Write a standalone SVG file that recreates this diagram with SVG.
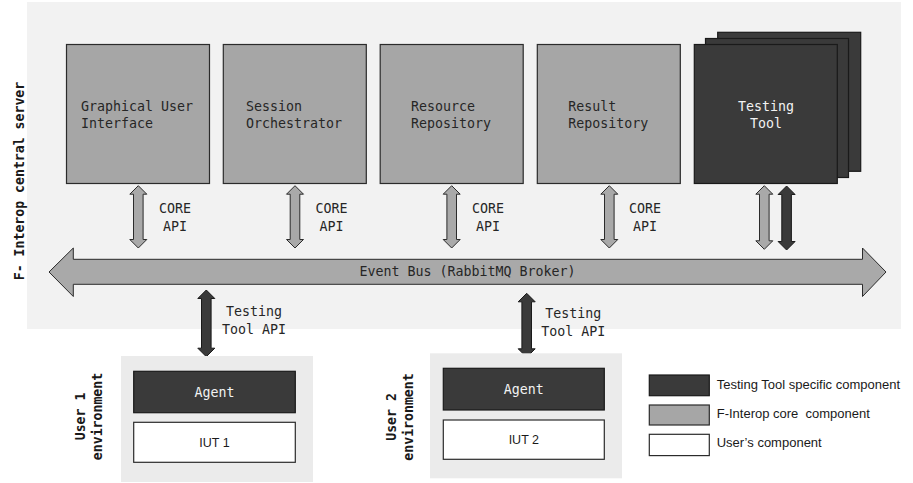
<svg xmlns="http://www.w3.org/2000/svg" width="913" height="483" viewBox="0 0 913 483">
<style>
.bg{fill:#f2f2f2}
.env{fill:#ebebeb}
.core{fill:#a6a6a6;stroke:#2b2b2b;stroke-width:1.2}
.dark{fill:#3a3a3a;stroke:#1a1a1a;stroke-width:1.2}
.user{fill:#ffffff;stroke:#2b2b2b;stroke-width:1.2}
.arL{fill:#a9a9a9;stroke:#2b2b2b;stroke-width:1}
.arD{fill:#3a3a3a;stroke:#1a1a1a;stroke-width:1}
.mono{font-family:"DejaVu Sans Mono","Liberation Mono",monospace;font-size:13.3px;fill:#262626}
.monoW{font-family:"DejaVu Sans Mono","Liberation Mono",monospace;font-size:13.3px;fill:#f2f2f2}
.side{font-family:"DejaVu Sans Mono","Liberation Mono",monospace;font-size:13.2px;font-weight:bold;fill:#1a1a1a}
.sans{font-family:"Liberation Sans",Arial,sans-serif;font-size:12.5px;fill:#1a1a1a}
.leg{font-family:"Liberation Sans",Arial,sans-serif;font-size:13px;fill:#1a1a1a}
</style>
<rect class="bg" x="27" y="2" width="874" height="327"/>
<text class="side" transform="translate(23.5,181) rotate(-90)" text-anchor="middle">F- Interop central server</text>

<g id="gui">
<rect class="core" x="66.5" y="44.5" width="143" height="139"/>
<text class="mono" x="81" y="110.5">Graphical User</text>
<text class="mono" x="81" y="127.5">Interface</text>
</g>
<g id="session">
<rect class="core" x="223.3" y="44.5" width="143" height="139"/>
<text class="mono" x="246" y="110.5">Session</text>
<text class="mono" x="246" y="127.5">Orchestrator</text>
</g>
<g id="resource">
<rect class="core" x="380.2" y="44.5" width="143" height="139"/>
<text class="mono" x="411" y="110.5">Resource</text>
<text class="mono" x="411" y="127.5">Repository</text>
</g>
<g id="result">
<rect class="core" x="537.3" y="44.5" width="143" height="139"/>
<text class="mono" x="568.3" y="110.5">Result</text>
<text class="mono" x="568.3" y="127.5">Repository</text>
</g>
<g id="testing-tool">
<rect class="dark" x="717.7" y="32.3" width="143" height="139"/>
<rect class="dark" x="705.5" y="38.5" width="143" height="139"/>
<rect class="dark" x="694.3" y="44.5" width="143" height="139"/>
<text class="monoW" x="766" y="110.5" text-anchor="middle">Testing</text>
<text class="monoW" x="766" y="127.5" text-anchor="middle">Tool</text>
</g>

<g id="connectors">
<path class="arL" d="M49,272 L73.3,248 L73.3,259.3 L862.5,259.3 L862.5,248 L886,272 L862.5,296.5 L862.5,284.3 L73.3,284.3 L73.3,296.5 Z"/>
<path class="arL" d="M138.3,185.7 L146.8,194.2 L143.1,194.2 L143.1,239.5 L146.8,239.5 L138.3,248 L129.8,239.5 L133.5,239.5 L133.5,194.2 L129.8,194.2 Z"/>
<path class="arL" d="M295,185.7 L303.5,194.2 L299.8,194.2 L299.8,239.5 L303.5,239.5 L295,248 L286.5,239.5 L290.2,239.5 L290.2,194.2 L286.5,194.2 Z"/>
<path class="arL" d="M451.7,185.7 L460.2,194.2 L456.5,194.2 L456.5,239.5 L460.2,239.5 L451.7,248 L443.2,239.5 L446.9,239.5 L446.9,194.2 L443.2,194.2 Z"/>
<path class="arL" d="M609.3,185.7 L617.8,194.2 L614.1,194.2 L614.1,239.5 L617.8,239.5 L609.3,248 L600.8,239.5 L604.5,239.5 L604.5,194.2 L600.8,194.2 Z"/>
<path class="arL" d="M764.3,185.7 L772.8,194.2 L769.1,194.2 L769.1,240.8 L772.8,240.8 L764.3,249.3 L755.8,240.8 L759.5,240.8 L759.5,194.2 L755.8,194.2 Z"/>
<path class="arD" d="M786.6,186 L795.1,194.5 L791.4,194.5 L791.4,241.5 L795.1,241.5 L786.6,250 L778.1,241.5 L781.8,241.5 L781.8,194.5 L778.1,194.5 Z"/>
<path class="arD" d="M206.3,290 L214.8,298.5 L211.1,298.5 L211.1,348.2 L214.8,348.2 L206.3,356.7 L197.8,348.2 L201.5,348.2 L201.5,298.5 L197.8,298.5 Z"/>
<path class="arD" d="M526.7,293.3 L535.2,301.8 L531.5,301.8 L531.5,348.8 L535.2,348.8 L526.7,357.3 L518.2,348.8 L521.9,348.8 L521.9,301.8 L518.2,301.8 Z"/>
<text class="mono" x="467.5" y="275.8" text-anchor="middle">Event Bus (RabbitMQ Broker)</text>
<text class="mono" x="175" y="213.3" text-anchor="middle">CORE</text>
<text class="mono" x="175" y="230.7" text-anchor="middle">API</text>
<text class="mono" x="331.5" y="213.3" text-anchor="middle">CORE</text>
<text class="mono" x="331.5" y="230.7" text-anchor="middle">API</text>
<text class="mono" x="488" y="213.3" text-anchor="middle">CORE</text>
<text class="mono" x="488" y="230.7" text-anchor="middle">API</text>
<text class="mono" x="645" y="213.3" text-anchor="middle">CORE</text>
<text class="mono" x="645" y="230.7" text-anchor="middle">API</text>
<text class="mono" x="254" y="316" text-anchor="middle">Testing</text>
<text class="mono" x="254" y="334" text-anchor="middle">Tool API</text>
<text class="mono" x="573.3" y="317.5" text-anchor="middle">Testing</text>
<text class="mono" x="573.3" y="335.5" text-anchor="middle">Tool API</text>
</g>

<g id="user1-env">
<rect class="env" x="121" y="356" width="192" height="126"/>
<text class="side" transform="translate(85,416.5) rotate(-90)" text-anchor="middle">User 1</text>
<text class="side" transform="translate(101.5,416.5) rotate(-90)" text-anchor="middle">environment</text>
</g>
<g id="agent1">
<rect class="dark" x="133.7" y="371.3" width="161.6" height="41.4"/>
<text class="monoW" x="214.5" y="396.7" text-anchor="middle">Agent</text>
</g>
<g id="iut1">
<rect class="user" x="133.7" y="422.3" width="161.6" height="40"/>
<text class="sans" x="214.5" y="446.7" text-anchor="middle">IUT 1</text>
</g>

<g id="user2-env">
<rect class="env" x="430" y="353.3" width="192" height="125"/>
<text class="side" transform="translate(396,417) rotate(-90)" text-anchor="middle">User 2</text>
<text class="side" transform="translate(412.5,417) rotate(-90)" text-anchor="middle">environment</text>
</g>
<g id="agent2">
<rect class="dark" x="443.3" y="368.3" width="161" height="41.7"/>
<text class="monoW" x="523.8" y="393.5" text-anchor="middle">Agent</text>
</g>
<g id="iut2">
<rect class="user" x="443.3" y="420" width="161" height="39.3"/>
<text class="sans" x="523.8" y="443.5" text-anchor="middle">IUT 2</text>
</g>

<g id="legend">
<rect class="dark" x="649.3" y="375" width="60" height="20.7"/>
<rect class="core" x="649.3" y="405" width="60" height="20"/>
<rect class="user" x="649.3" y="434.3" width="60" height="21.3"/>
<text class="leg" x="716.7" y="389">Testing Tool specific component</text>
<text class="leg" x="716.7" y="418" xml:space="preserve">F-Interop core  component</text>
<text class="leg" x="716.7" y="446.5">User’s component</text>
</g>
</svg>
